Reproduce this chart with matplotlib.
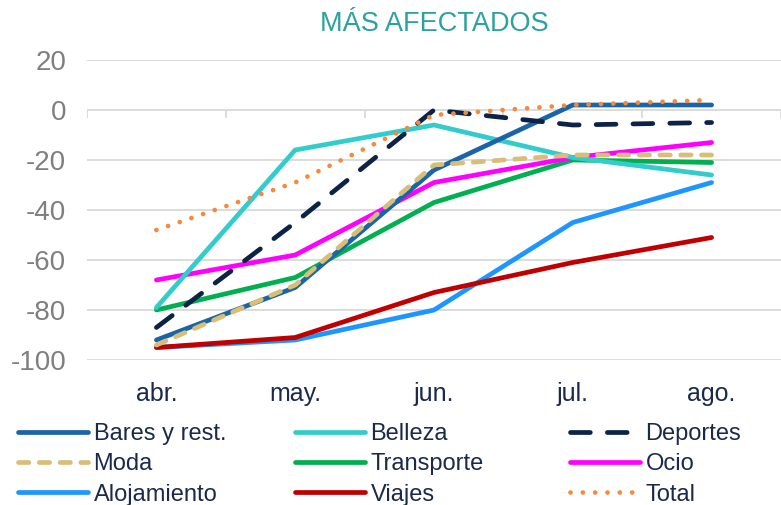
import numpy as np
import matplotlib
matplotlib.use("Agg")
import matplotlib.pyplot as plt

plt.rcParams['font.family'] = ['Liberation Sans', 'DejaVu Sans']
plt.rcParams['axes.unicode_minus'] = False

# data
months = ["abr.", "may.", "jun.", "jul.", "ago."]
bares = [-92, -71, -24, 2, 2]
belleza = [-79, -16, -6, -19, -26]
deportes = [-87, -45, 0, -6, -5]
moda = [-94, -70, -22, -18, -18]
transporte = [-80, -67, -37, -20, -21]
ocio = [-68, -58, -29, -19, -13]
alojamiento = [-95, -92, -80, -45, -29]
viajes = [-95, -91, -73, -61, -51]
total = [-48, -29, -2, 2, 4]

x = np.arange(len(months))

fig = plt.figure(figsize=(7.81, 5.05), dpi=100)
ax = fig.add_axes([87 / 781, 1 - 360 / 505, 694 / 781, 300 / 505])

for v in range(-100, 21, 20):
    ax.axhline(v, color="#D9D9D9", lw=1.3, zorder=0)
# category boundary tick marks on the zero line
ax.vlines(np.arange(-0.5, 5, 1), -3, 0, color="#D9D9D9", lw=1.3, zorder=0)

lw = 3.4
h = {}
h["Alojamiento"], = ax.plot(x, alojamiento, color="#1E96FF", lw=lw, solid_capstyle="round")
h["Viajes"], = ax.plot(x, viajes, color="#C00000", lw=lw, solid_capstyle="round")
h["Transporte"], = ax.plot(x, transporte, color="#00B050", lw=lw, solid_capstyle="round")
h["Ocio"], = ax.plot(x, ocio, color="#FF00FF", lw=lw, solid_capstyle="round")
h["Belleza"], = ax.plot(x, belleza, color="#33CCCC", lw=lw, solid_capstyle="round")
h["Bares y rest."], = ax.plot(x, bares, color="#1A64A8", lw=lw, solid_capstyle="round")
h["Moda"], = ax.plot(x, moda, color="#D9BE78", lw=lw, dashes=(2.2, 2.2), dash_capstyle="round")
h["Deportes"], = ax.plot(x, deportes, color="#0C2246", lw=lw, dashes=(4.2, 3.6), dash_capstyle="round")
h["Total"], = ax.plot(x, total, color="#F58A3C", lw=lw, dashes=(0.01, 2.6), dash_capstyle="round")

ax.set_xlim(-0.5, 4.5)
ax.set_ylim(-100, 20)
ax.set_yticks(range(-100, 21, 20))
ax.set_xticks(x)
ax.set_xticklabels(months)
ax.tick_params(axis="y", length=0, pad=15, labelsize=20, labelcolor="#7F7F7F")
ax.tick_params(axis="x", length=0, pad=16, labelsize=18, labelcolor="#1B2A4A")
for s in ax.spines.values():
    s.set_visible(False)

fig.text(434 / 781, 1 - 24 / 505, "MÁS AFECTADOS", color="#2AA29E", fontsize=19.5,
         ha="center", va="center")

cols = [["Bares y rest.", "Moda", "Alojamiento"],
        ["Belleza", "Transporte", "Viajes"],
        ["Deportes", "Ocio", "Total"]]
col_x = [18, 295, 570]
for names, cx in zip(cols, col_x):
    leg = fig.legend([h[n] for n in names], names, loc="upper left",
                     bbox_to_anchor=(cx / 781, 1 - 423 / 505), frameon=False,
                     fontsize=17, handlelength=2.95, handletextpad=0.25,
                     labelspacing=0.35, borderpad=0, borderaxespad=0)
    for t in leg.get_texts():
        t.set_color("#1B2A4A")

fig.savefig("out.png", dpi=100)
